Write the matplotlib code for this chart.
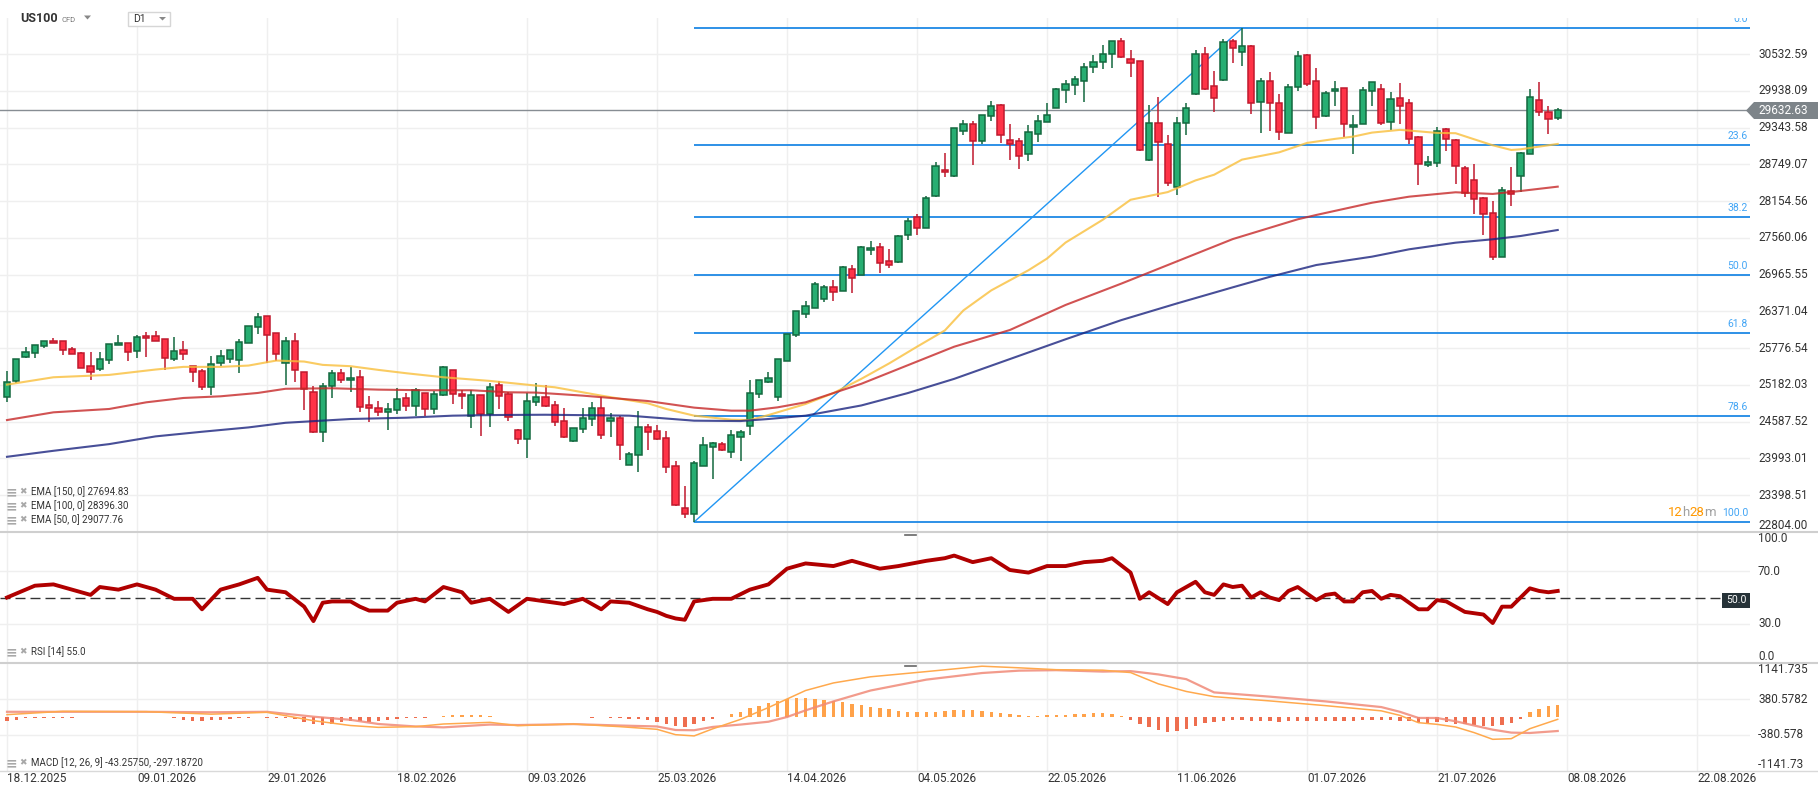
import numpy as np
import matplotlib
matplotlib.use("Agg")
import matplotlib.pyplot as plt
from matplotlib.transforms import blended_transform_factory, offset_copy
from matplotlib.patches import Polygon, Rectangle
from matplotlib.lines import Line2D

plt.rcParams['font.family'] = ['Roboto', 'DejaVu Sans']

# ---- daily candles, US100 (bar 0 = 18.12.2025) ----
opens = [
    24982, 25241, 25631, 25695, 25809, 25890, 25890, 25760, 25695, 25485,
    25436, 25582, 25825, 25858, 25728, 25971, 25971, 25922, 25598, 25744,
    25485, 25403, 25144, 25533, 25598, 25582, 25858, 26117, 26295, 26020,
    25533, 25890, 25387, 25063, 24414, 25160, 25371, 25258, 25306, 24852,
    24804, 24739, 24771, 24966, 24836, 25047, 24787, 25015, 25420, 25031,
    24674, 25015, 24706, 25177, 25031, 24447, 24301, 24901, 24982, 24852,
    24593, 24268, 24463, 24625, 24804, 24593, 24641, 23895, 24042, 24495,
    24431, 24317, 23879, 23198, 23101, 23879, 24171, 24220, 24090, 24333,
    24512, 25031, 25225, 24982, 25566, 25987, 26333, 26430, 26576, 26771,
    26706, 27063, 26965, 27370, 27419, 27192, 27176, 27614, 27890, 27727,
    28230, 28652, 28554, 29284, 29398, 29122, 29527, 29706, 29138, 29122,
    28911, 29235, 29430, 29657, 29949, 30024, 30089, 30316, 30397, 30527,
    30738, 30446, 30414, 28825, 29425, 29084, 28387, 29425, 29879, 30527,
    30008, 30106, 30738, 30560, 30657, 29749, 30089, 29733, 29262, 29992,
    30511, 30089, 29538, 29927, 29976, 29360, 29408, 29927, 29960, 29441,
    29814, 29733, 29198, 28744, 28776, 29327, 29149, 28695, 28500, 28208,
    27965, 27252, 28322, 28565, 28922, 29781, 29587, 29506]
highs = [
    25409, 25600, 25793, 25830, 25895, 25939, 25895, 25793, 25722, 25712,
    25712, 25845, 25993, 25860, 25993, 26030, 26052, 25925, 25955, 25890,
    25490, 25436, 25647, 25744, 25747, 25922, 26135, 26349, 26300, 26025,
    25960, 26025, 25390, 25160, 25214, 25420, 25436, 25468, 25420, 24998,
    24917, 24885, 25128, 25047, 25128, 25050, 25080, 25485, 25425, 25096,
    25096, 25020, 25214, 25242, 25063, 24463, 25047, 25214, 25177, 24917,
    24804, 24482, 24804, 24901, 24982, 24722, 24674, 24090, 24755, 24544,
    24528, 24431, 23960, 23555, 23960, 24333, 24252, 24252, 24447, 24447,
    25258, 25260, 25387, 25600, 26005, 26380, 26544, 26852, 26803, 26884,
    27111, 27127, 27435, 27517, 27484, 27387, 27600, 27873, 27938, 28230,
    28781, 28927, 29335, 29462, 29446, 29545, 29770, 29722, 29398, 29170,
    29381, 29543, 29738, 29981, 30111, 30176, 30381, 30511, 30673, 30740,
    30787, 30592, 30417, 29716, 29830, 29230, 29522, 29733, 30592, 30641,
    30251, 30770, 30770, 30949, 30673, 30138, 30235, 29879, 30041, 30576,
    30527, 30300, 29927, 30089, 29980, 29554, 29992, 30075, 30041, 29911,
    30057, 29798, 29214, 28890, 29360, 29330, 29152, 28727, 28760, 28225,
    28160, 28387, 28711, 28954, 29960, 30073, 29684, 29655]
lows = [
    24912, 25214, 25625, 25625, 25782, 25855, 25658, 25675, 25450, 25268,
    25414, 25528, 25820, 25576, 25625, 25641, 25888, 25431, 25576, 25593,
    25236, 25106, 25020, 25495, 25544, 25382, 25855, 25998, 25544, 25576,
    25182, 25225, 24782, 24410, 24252, 24966, 25209, 25063, 24739, 24587,
    24685, 24458, 24706, 24755, 24685, 24674, 24706, 24998, 24868, 24787,
    24490, 24360, 24506, 24787, 24604, 24231, 24004, 24847, 24831, 24523,
    24330, 24265, 24409, 24523, 24301, 24333, 23971, 23890, 23782, 24133,
    24298, 23766, 23225, 23031, 22966, 23875, 23669, 24120, 23993, 23944,
    24366, 24966, 25209, 24917, 25563, 25955, 26268, 26428, 26527, 26544,
    26700, 26673, 26963, 27290, 26998, 27079, 27160, 27533, 27614, 27725,
    28228, 28538, 28538, 29219, 28733, 29073, 29446, 29089, 28814, 28668,
    28798, 29106, 29428, 29655, 29738, 29862, 29760, 30219, 30284, 30311,
    30476, 30154, 28970, 28808, 28225, 28403, 28257, 29230, 29875, 29958,
    29603, 30089, 30381, 30333, 29570, 29262, 29295, 29149, 29260, 29927,
    30008, 29327, 29522, 29700, 29198, 28922, 29405, 29684, 29392, 29311,
    29408, 29084, 28419, 28711, 28711, 28971, 28436, 28225, 27949, 27608,
    27203, 27250, 28079, 28306, 28920, 29538, 29246, 29473]
closes = [
    25225, 25598, 25712, 25825, 25890, 25858, 25744, 25679, 25452, 25387,
    25598, 25841, 25858, 25712, 25955, 25939, 25890, 25614, 25728, 25679,
    25387, 25144, 25517, 25647, 25744, 25874, 26133, 26279, 25987, 25679,
    25890, 25420, 25112, 24414, 25160, 25371, 25258, 25290, 24820, 24804,
    24739, 24787, 24949, 24836, 25096, 24787, 25031, 25468, 25031, 24998,
    25015, 24706, 25144, 24998, 24658, 24301, 24917, 24982, 24847, 24577,
    24333, 24479, 24641, 24804, 24366, 24641, 24204, 24058, 24495, 24414,
    24301, 23863, 23247, 23101, 23912, 24204, 24236, 24122, 24366, 24414,
    25047, 25258, 25290, 25598, 26003, 26376, 26463, 26819, 26771, 26690,
    27095, 26917, 27419, 27403, 27160, 27127, 27598, 27825, 27727, 28198,
    28716, 28619, 29333, 29398, 29122, 29543, 29689, 29219, 29073, 28879,
    29268, 29446, 29543, 29965, 30046, 30122, 30316, 30397, 30527, 30738,
    30479, 30381, 28987, 29425, 29116, 28452, 29425, 29652, 30527, 29960,
    29814, 30722, 30624, 30657, 29733, 30089, 29733, 29279, 29992, 30495,
    30041, 29522, 29895, 29960, 29408, 29392, 29943, 30073, 29425, 29798,
    29700, 29165, 28760, 28792, 29295, 29165, 28727, 28290, 28192, 27949,
    27252, 28338, 28273, 28938, 29830, 29587, 29489, 29632.63]
last_price = 29632.63

# ---- EMA lines, read at sample bars ----
ema50_bars = [0, 5, 11, 16, 19, 23, 26, 29, 32, 34, 37, 40, 43, 47, 52, 57, 59, 64, 69,
              71, 74, 78, 80, 82, 86, 89, 92, 95, 98, 101, 103, 106, 110, 112, 114, 118,
              121, 125, 128, 130, 133, 137, 140, 143, 145, 147, 150, 151, 154, 156, 158,
              160, 162, 163, 165, 167]
ema50_vals = [25187, 25306, 25344, 25431, 25474, 25474, 25495, 25576, 25560, 25506, 25485,
              25425, 25371, 25306, 25247, 25171, 25144, 25009, 24885, 24793, 24685, 24620,
              24614, 24695, 24874, 25050, 25280, 25530, 25800, 26063, 26387, 26711, 27036,
              27225, 27484, 27852, 28176, 28300, 28489, 28581, 28825, 28943, 29095, 29160,
              29198, 29262, 29306, 29295, 29257, 29252, 29154, 29057, 28981, 28992, 29035,
              29079]
ema100_bars = [0, 5, 11, 15, 19, 23, 27, 30, 35, 40, 45, 50, 54, 57, 62, 69, 74, 78, 80,
               83, 86, 92, 97, 102, 108, 114, 120, 126, 132, 139, 141, 147, 151, 156, 160,
               163, 167]
ema100_vals = [24614, 24739, 24793, 24901, 24971, 24998, 25052, 25120, 25128, 25106, 25096,
               25096, 25063, 25058, 25009, 24922, 24815, 24766, 24766, 24820, 24901, 25200,
               25500, 25800, 26070, 26475, 26820, 27180, 27540, 27860, 27930, 28128, 28226,
               28297, 28270, 28318, 28388]
ema150_bars = [0, 5, 11, 16, 21, 26, 30, 37, 43, 48, 53, 58, 67, 74, 79, 82, 86, 92, 97,
               102, 108, 114, 120, 126, 132, 136, 141, 147, 151, 156, 160, 163, 167]
ema150_vals = [24020, 24117, 24225, 24350, 24425, 24495, 24570, 24631, 24652, 24685, 24696,
               24700, 24685, 24604, 24598, 24631, 24685, 24850, 25050, 25280, 25600, 25920,
               26230, 26500, 26760, 26930, 27121, 27256, 27375, 27482, 27537, 27590, 27687]

# ---- Fibonacci retracement (anchors: bar 74 low, bar 133 high) ----
fib_low_bar, fib_high_bar = 74, 133
fib_low, fib_high = 22966, 30949
fib_ratios = [0.0, 23.6, 38.2, 50.0, 61.8, 78.6, 100.0]

# ---- RSI(14) ----
rsi_bars = [0, 3, 5, 7, 9, 10, 12, 14, 16, 18,
            20, 21, 23, 25, 27, 28, 30, 32, 33, 34,
            35, 37, 38, 39, 41, 42, 44, 45, 47, 49,
            50, 52, 54, 56, 58, 60, 62, 64, 65, 67,
            69, 70, 71, 72, 73, 74, 76, 78, 80, 82,
            84, 86, 89, 91, 93, 94, 96, 99, 101, 102,
            104, 106, 108, 110, 112, 114, 116, 118, 119, 121,
            122, 123, 125, 126, 128, 129, 130, 131, 132, 133,
            134, 135, 136, 137, 138, 139, 140, 141, 142, 143,
            144, 145, 146, 147, 148, 149, 150, 151, 152, 153,
            154, 155, 156, 157, 158, 159, 160, 161, 162, 163,
            164, 165, 166, 167]
rsi_vals = [50, 59, 60, 56, 52, 58, 56, 60, 56, 49,
            49, 41, 56, 60, 65, 56, 54, 43, 32, 46,
            47, 47, 43, 40, 40, 46, 49, 47, 58, 54,
            46, 49, 39, 49, 47, 45, 49, 41, 47, 46,
            41, 39, 36, 34, 33, 47, 49, 49, 56, 60,
            72, 76, 74, 78, 74, 72, 74, 78, 80, 82,
            77, 80, 71, 69, 74, 74, 77, 78, 80, 69,
            49, 54, 45, 54, 62, 54, 52, 60, 58, 59,
            50, 54, 50, 48, 55, 58, 53, 48, 52, 53,
            47, 47, 54, 55, 49, 52, 51, 46, 41, 41,
            48, 47, 43, 39, 38, 37, 30.5, 43, 43, 50,
            57, 55, 54, 55]

# ---- MACD(12, 26, 9) ----
macd_bars = [0, 6, 15, 22, 28, 33, 37, 40, 44, 47, 52, 55, 61, 66, 70, 72, 74, 76, 79, 82,
             84, 86, 89, 93, 99, 105, 109, 113, 118, 121, 124, 127, 130, 136, 142, 148,
             150, 152, 154, 156, 158, 160, 162, 164, 167]
macd_line = [50, 120, 113, 60, 99, -78, -180, -219, -204, -148, -113, -183, -148, -204,
             -260, -374, -400, -250, -50, 200, 380, 560, 720, 850, 960, 1074, 1040, 1000,
             990, 940, 700, 540, 430, 340, 240, 130, 35, -120, -155, -211, -330, -472,
             -458, -247, -49]
signal_line = [110, 110, 110, 100, 110, 7, -60, -148, -200, -219, -160, -170, -150, -180,
               -200, -275, -280, -210, -160, -100, 0, 140, 330, 560, 790, 930, 980, 990,
               960, 970, 900, 800, 520, 430, 330, 210, 110, -20, -21, -90, -180, -268,
               -330, -338, -296]
macd_hist = [
    -90, -70, -20, -25, -30, -25, -20, -15, -10, 0,
    5, 10, 5, 0, -5, -10, -5, 0, -30, -60,
    -90, -85, -70, -60, -40, -20, -15, -10, -20, -25,
    -30, -40, -100, -150, -160, -140, -110, -80, -90, -100,
    -90, -70, -50, -30, -20, -15, -10, 30, 45, 50,
    45, 35, 20, 5, -5, -10, 5, 10, 5, 0,
    -5, 0, -10, -15, -10, -20, -30, -40, -50, -60,
    -100, -150, -200, -220, -150, -90, -40, 10, 60, 110,
    180, 240, 290, 340, 380, 400, 410, 390, 370, 340,
    310, 280, 250, 220, 190, 160, 130, 110, 100, 100,
    110, 120, 140, 150, 140, 120, 110, 90, 60, 40,
    30, 30, 35, 40, 50, 60, 70, 80, 80, 60,
    30, -60, -150, -220, -280, -320, -300, -250, -190, -130,
    -110, -90, -70, -60, -80, -90, -90, -100, -90, -80,
    -80, -90, -90, -80, -90, -80, -70, -60, -60, -70,
    -82, -82, -127, -140, -106, -106, -140, -155, -176, -190,
    -190, -162, -127, -50, 106, 176, 225, 247]

# ---- axis texts ----
date_labels = ['18.12.2025', '09.01.2026', '29.01.2026', '18.02.2026', '09.03.2026',
               '25.03.2026', '14.04.2026', '04.05.2026', '22.05.2026', '11.06.2026',
               '01.07.2026', '21.07.2026', '08.08.2026', '22.08.2026']
price_ticks = ['22804.00', '23398.51', '23993.01', '24587.52', '25182.03', '25776.54',
               '26371.04', '26965.55', '27560.06', '28154.56', '28749.07', '29343.58',
               '29938.09', '30532.59']
rsi_ticks = ['100.0', '70.0', '30.0', '0.0']
macd_ticks = ['1141.735', '380.5782', '-380.578', '-1141.73']
macd_tick_vals = [1141.735, 380.5782, -380.578, -1141.735]
ema_legend = ['EMA [150, 0] 27694.83', 'EMA [100, 0] 28396.30', 'EMA [50, 0] 29077.76']
rsi_legend = 'RSI [14] 55.0'
macd_legend = 'MACD [12, 26, 9] -43.25750, -297.18720'

W, H = 1818, 796
PX = 1750
step = 130 / 14
fig = plt.figure(figsize=(W / 100, H / 100), dpi=100)


def fx(x):
    return x / W


def fy(y):
    return 1 - y / H


def panel(top, bottom):
    return fig.add_axes([0, fy(bottom), PX / W, (bottom - top) / H])


ax = panel(18, 532)
ax_rsi = panel(532, 663)
ax_macd = panel(663, 771)

ax.set_ylim(22804, 22804 + 514 * 16.169)
ax_rsi.set_ylim(0, 100)
ax_macd.set_ylim(-1141.735, 1141.735)

GRID = '#efefef'
for a in (ax, ax_rsi, ax_macd):
    a.set_xlim(-7 / step, (PX - 7) / step)
    a.set_xticks([])
    a.set_yticks([])
    for s in a.spines.values():
        s.set_visible(False)
    for k in range(len(date_labels)):
        a.axvline(k * 14, color=GRID, lw=1, zorder=0)


def right_labels(a, vals, labels):
    tr = blended_transform_factory(a.transAxes, a.transData)
    lo, hi = a.get_ylim()
    for v, s in zip(vals, labels):
        va = 'center'
        if abs(v - lo) < 1e-3 * (hi - lo):
            va = 'bottom'
        elif abs(v - hi) < 1e-3 * (hi - lo):
            va = 'top'
        a.text(1758 / PX, v, s, transform=tr, ha='left', va=va, fontsize=8.5,
               color='#333333', clip_on=False)


# ---- main price panel ----
price_vals = [float(t) for t in price_ticks]
for v in price_vals:
    ax.axhline(v, color=GRID, lw=1, zorder=0)
right_labels(ax, price_vals, price_ticks)

fib_levels = [fib_high - r / 100 * (fib_high - fib_low) for r in fib_ratios]
ax.hlines(fib_levels, fib_low_bar, (PX - 7) / step, color='#1e88e5', lw=1.3, zorder=1)
ax.plot([fib_low_bar, fib_high_bar], [fib_low, fib_high], color='#2196f3', lw=1, zorder=1)
ftr = offset_copy(blended_transform_factory(ax.transAxes, ax.transData), fig=fig, y=4, units='dots')
for r, lv in zip(fib_ratios, fib_levels):
    ax.text(1748 / PX, lv, f'{r:.1f}', transform=ftr, ha='right', va='bottom',
            fontsize=7.5, color='#42a5f5', clip_on=True)

ax.axhline(last_price, color='#878d93', lw=1, zorder=2)

x = np.arange(len(closes))
o, h, l, c = (np.array(v, dtype=float) for v in (opens, highs, lows, closes))
up = c >= o
lo_body = np.minimum(o, c)
body = np.maximum(np.abs(c - o), 18)
for mask, fill, edge in [(up, '#27ae72', '#13683f'), (~up, '#ff3347', '#c0192d')]:
    ax.vlines(x[mask], l[mask], h[mask], color=edge, lw=1.1, zorder=3)
    ax.bar(x[mask], body[mask], bottom=lo_body[mask], width=0.68, color=fill,
           edgecolor=edge, linewidth=1.1, zorder=4)

ax.plot(ema50_bars, ema50_vals, color='#f9bf3b', lw=1.5, alpha=0.8, zorder=5)
ax.plot(ema100_bars, ema100_vals, color='#c62828', lw=1.5, alpha=0.8, zorder=5)
ax.plot(ema150_bars, ema150_vals, color='#1a237e', lw=1.5, alpha=0.8, zorder=5)

# ---- RSI panel ----
for v in (30, 70):
    ax_rsi.axhline(v, color=GRID, lw=1, zorder=0)
ax_rsi.axhline(50, color='#333333', lw=1, dashes=(7.2, 3.6), zorder=1)
ax_rsi.plot(rsi_bars, rsi_vals, color='#b00000', lw=2.8, zorder=3, solid_joinstyle='round')
right_labels(ax_rsi, [100, 70, 30, 0], rsi_ticks)

# ---- MACD panel ----
for v in (380.578, -380.578):
    ax_macd.axhline(v, color=GRID, lw=1, zorder=0)
hist = np.array(macd_hist, dtype=float)
ax_macd.bar(np.arange(len(hist)), hist, width=0.38,
            color=np.where(hist >= 0, '#ffa24a', '#ee6e4f'), zorder=2)
ax_macd.plot(macd_bars, signal_line, color='#f08a78', lw=1.6, alpha=0.85, zorder=3)
ax_macd.plot(macd_bars, macd_line, color='#ffa94d', lw=1.1, zorder=4)
right_labels(ax_macd, macd_tick_vals, macd_ticks)

# ---- separators, bottom line, handles ----
for y, col, lw in [(532, '#cfcfcf', 1.5), (663, '#cfcfcf', 1.5), (771, '#d9d9d9', 1)]:
    fig.add_artist(Line2D([0, 1], [fy(y), fy(y)], color=col, lw=lw))
for y in (534.5, 665.5):
    fig.add_artist(Line2D([fx(905), fx(916)], [fy(y), fy(y)], color='#666666', lw=1.2))

# ---- date labels ----
for k, s in enumerate(date_labels):
    fig.text(fx(7 + 130 * k), fy(778), s, ha='left', va='center', fontsize=8.5, color='#333333')

# ---- current price tag ----
fig.add_artist(Polygon([(fx(1746), fy(110.5)), (fx(1754), fy(102)), (fx(1818), fy(102)),
                        (fx(1818), fy(119)), (fx(1754), fy(119))],
                       closed=True, facecolor='#7d8489', edgecolor='none'))
fig.text(fx(1758), fy(110.5), f'{last_price:.2f}', ha='left', va='center', fontsize=8.5,
         color='white')

# ---- RSI 50 tag ----
fig.add_artist(Rectangle((fx(1722), fy(607.5)), (1750 - 1722) / W, 14.5 / H,
                         facecolor='#263238', edgecolor='none'))
fig.text(fx(1736), fy(600), '50.0', ha='center', va='center', fontsize=7.5, color='white')

# ---- countdown (kept just left of the 100.0 fib label) ----
for s, xp, col in [('12', 1668, '#ff9800'), ('h', 1682, '#a0a0a0'),
                   ('28', 1689, '#ff9800'), ('m', 1704, '#a0a0a0')]:
    fig.text(fx(xp), fy(512.5), s, ha='left', va='center', fontsize=9.5, color=col)

# ---- indicator legends ----
def legend_row(y, text):
    fig.text(fx(6), fy(y), '\u2261', ha='left', va='center', fontsize=10,
             color='#a8a8a8', family='DejaVu Sans', fontweight='bold')
    fig.text(fx(19), fy(y), '\u2716', ha='left', va='center', fontsize=6.5,
             color='#a8a8a8', family='DejaVu Sans')
    fig.text(fx(31), fy(y), text, ha='left', va='center', fontsize=7, color='#333333')


for y, s in zip((492, 506, 520), ema_legend):
    legend_row(y, s)
legend_row(652, rsi_legend)
legend_row(763, macd_legend)

# ---- header ----
fig.text(fx(20), fy(19), 'US100', ha='left', va='center', fontsize=9,
         fontweight='bold', color='#333333')
fig.text(fx(61), fy(19.5), 'CFD', ha='left', va='center', fontsize=5.5, color='#777777')
fig.add_artist(Polygon([(fx(84), fy(15.5)), (fx(91), fy(15.5)), (fx(87.5), fy(19.5))],
                       closed=True, facecolor='#888888', edgecolor='none'))
fig.add_artist(Rectangle((fx(128), fy(26)), 42 / W, 14 / H, facecolor='white',
                         edgecolor='#d6d6d6', lw=1))
fig.text(fx(133), fy(19), 'D1', ha='left', va='center', fontsize=7.5, color='#333333')
fig.add_artist(Polygon([(fx(159), fy(17)), (fx(166), fy(17)), (fx(162.5), fy(20.5))],
                       closed=True, facecolor='#888888', edgecolor='none'))

fig.savefig('out.png', dpi=100, facecolor='white')
